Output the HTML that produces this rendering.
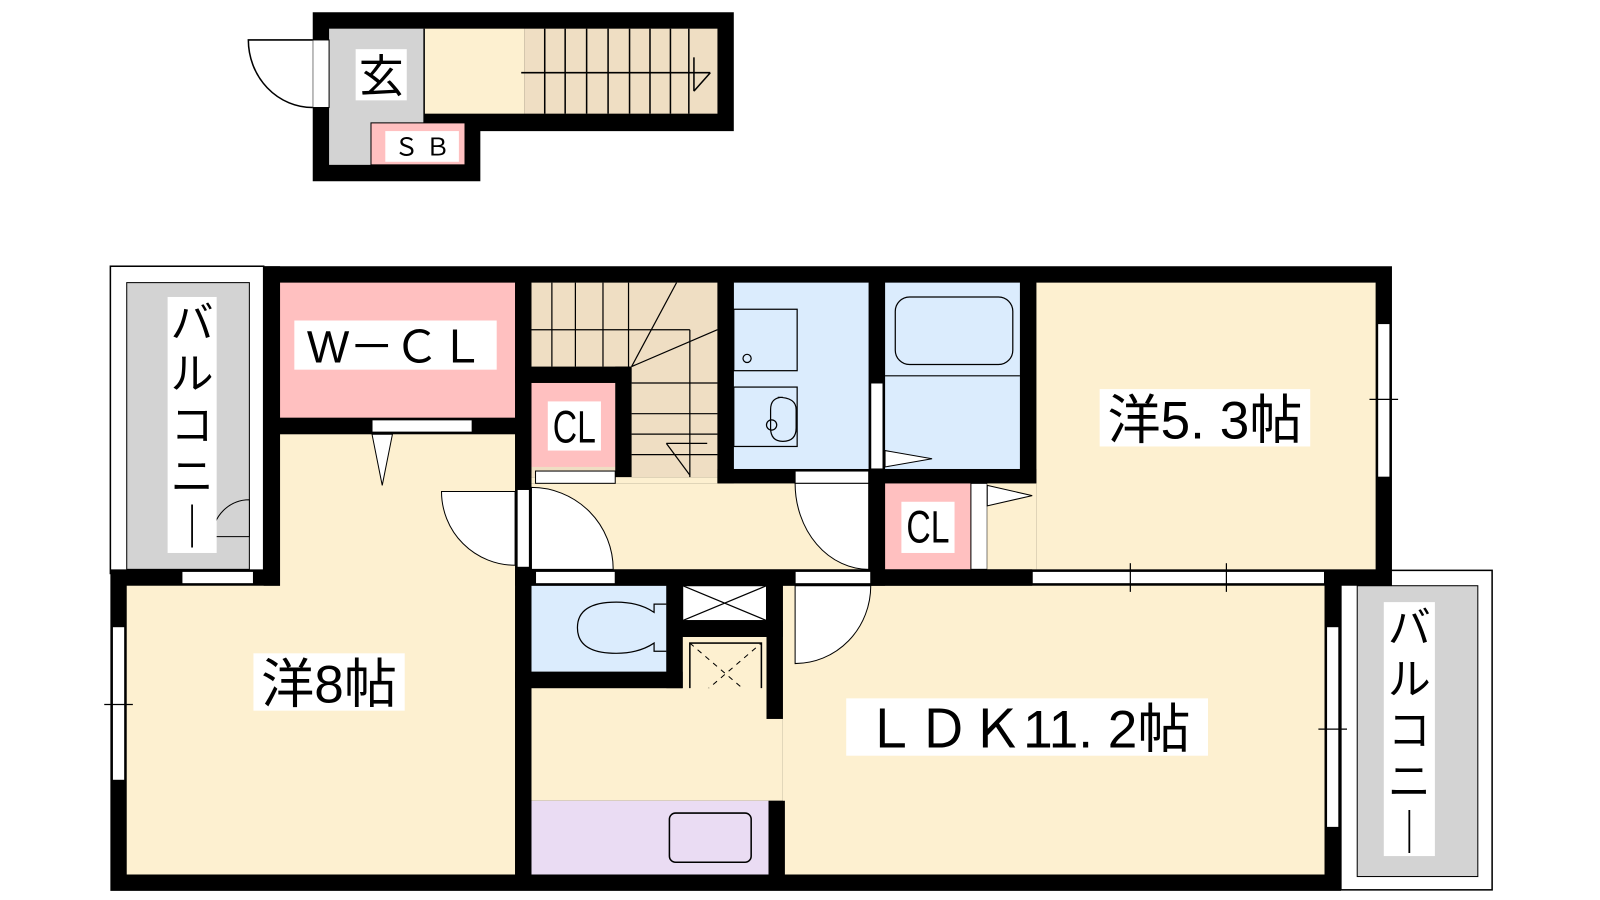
<!DOCTYPE html><html><head><style>body{margin:0;background:#fff}svg{display:block}text{font-family:"Liberation Sans","Noto Sans CJK JP",sans-serif}</style></head><body>
<svg width="1600" height="900" viewBox="0 0 1600 900" xmlns="http://www.w3.org/2000/svg">
<g transform="scale(1.022 1.024)">
<!-- top unit -->
<polygon points="306,12 718,12 718,128 470,128 470,177 306,177" fill="#000"/>
<rect x="322" y="28" width="93" height="133" fill="#d3d3d3"/>
<rect x="415" y="28" width="98" height="83" fill="#fdf0d0"/>
<rect x="513" y="28" width="189" height="83" fill="#efdec3"/>
<rect x="363" y="120" width="92" height="41" fill="#ffc0c0" stroke="#000" stroke-width="1"/>
<line x1="415" y1="28" x2="415" y2="120" stroke="#000" stroke-width="1.5"/>
<g stroke="#000" stroke-width="1.5">
<line x1="533" y1="28" x2="533" y2="111"/><line x1="553" y1="28" x2="553" y2="111"/><line x1="574" y1="28" x2="574" y2="111"/><line x1="595" y1="28" x2="595" y2="111"/><line x1="616" y1="28" x2="616" y2="111"/><line x1="636" y1="28" x2="636" y2="111"/><line x1="656" y1="28" x2="656" y2="111"/><line x1="674" y1="28" x2="674" y2="111"/>
<line x1="510" y1="71" x2="695" y2="71"/><line x1="695" y1="71" x2="679" y2="89"/><line x1="679" y1="56" x2="679" y2="89"/>
</g>
<rect x="306" y="39" width="16" height="66" fill="#fff" stroke="#000"/>
<path d="M306 39 L243 39 A63 66 0 0 0 306 105" fill="#fff" stroke="#000" stroke-width="1.5"/>
<rect x="348" y="48" width="50" height="50" fill="#fff"/>
<text x="373" y="90" font-size="44" text-anchor="middle">玄</text>
<rect x="377" y="128" width="72" height="30" fill="#fff"/>
<text x="413" y="152" font-size="24" text-anchor="middle">Ｓ Ｂ</text>

<!-- main unit base -->
<rect x="108" y="260" width="150" height="300" fill="#fff" stroke="#000" stroke-width="1.5"/>
<rect x="124" y="276" width="120" height="280" fill="#d3d3d3" stroke="#000" stroke-width="1"/>
<rect x="1312" y="557" width="148" height="312" fill="#fff" stroke="#000" stroke-width="1.5"/>
<rect x="1328" y="572" width="118" height="284" fill="#d3d3d3" stroke="#000" stroke-width="1"/>
<polygon points="258,260 1362,260 1362,572 1312,572 1312,870 108,870 108,556 258,556" fill="#000"/>
<!-- rooms -->
<rect x="274" y="276" width="230" height="132" fill="#ffc0c0"/>
<rect x="124" y="572" width="380" height="282" fill="#fdf0d0"/>
<rect x="274" y="424" width="230" height="150" fill="#fdf0d0"/>
<rect x="520" y="276" width="182" height="190" fill="#efdec3"/>
<rect x="520" y="374" width="82" height="82" fill="#ffc0c0"/>
<rect x="602" y="358" width="16" height="108" fill="#000"/>
<rect x="504" y="358" width="114" height="16" fill="#000"/>
<rect x="718" y="276" width="132" height="182" fill="#dbecfd"/>
<rect x="866" y="276" width="132" height="182" fill="#dbecfd"/>
<rect x="520" y="472" width="330" height="84" fill="#fdf0d0"/>
<rect x="520" y="466" width="182" height="6" fill="#fdf0d0"/>
<rect x="866" y="472" width="84" height="84" fill="#ffc0c0"/>
<rect x="950" y="472" width="16" height="84" fill="#fff" stroke="#000"/>
<rect x="1014" y="276" width="332" height="280" fill="#fdf0d0"/>
<rect x="966" y="472" width="48" height="84" fill="#fdf0d0"/>
<rect x="520" y="572" width="132" height="84" fill="#dbecfd"/>
<rect x="668" y="572" width="82" height="34" fill="#fff" stroke="#000"/>
<path d="M668 572 L750 606 M668 606 L750 572" stroke="#000" stroke-width="1.2"/>
<rect x="668" y="622" width="82" height="80" fill="#fdf0d0"/>
<rect x="675" y="628" width="70" height="60" fill="none" stroke="#000" stroke-width="1.5"/>
<path d="M675 628 L745 688 M675 688 L745 628" stroke="#000" stroke-dasharray="5,5"/>
<rect x="520" y="672" width="230" height="110" fill="#fdf0d0"/>
<rect x="766" y="572" width="530" height="282" fill="#fdf0d0"/>
<rect x="750" y="702" width="16" height="80" fill="#fdf0d0"/>
<rect x="520" y="782" width="232" height="72" fill="#eadcf3"/>
<rect x="655" y="794" width="80" height="48" rx="6" fill="none" stroke="#000" stroke-width="1.5"/>
<g stroke="#000" stroke-width="1.2" fill="none">
<line x1="540" y1="276" x2="540" y2="358"/><line x1="563" y1="276" x2="563" y2="358"/><line x1="590" y1="276" x2="590" y2="358"/><line x1="615" y1="276" x2="615" y2="358"/>
<line x1="520" y1="322" x2="675" y2="322"/><line x1="675" y1="322" x2="675" y2="466"/>
<line x1="618" y1="358" x2="662" y2="276"/><line x1="618" y1="358" x2="702" y2="322"/>
<line x1="618" y1="374" x2="702" y2="374"/><line x1="618" y1="404" x2="702" y2="404"/><line x1="618" y1="424" x2="702" y2="424"/><line x1="618" y1="444" x2="702" y2="444"/>
<line x1="652" y1="433" x2="692" y2="433"/><line x1="652" y1="433" x2="675" y2="464"/>
<rect x="718" y="302" width="62" height="60"/><circle cx="731" cy="350" r="4"/>
<rect x="718" y="378" width="62" height="58"/>
<path d="M761 388 Q779 388 779 400 L779 418 Q779 431 766 431 Q754 431 754 418 L754 400 Q754 388 766 388Z"/><circle cx="755" cy="415" r="5"/>
<rect x="876" y="290" width="115" height="66" rx="14"/><line x1="866" y1="367" x2="998" y2="367"/>
<path d="M652 590 L640 590 L640 598 Q625 588 603 588 Q565 588 565 613 Q565 638 603 638 Q625 638 640 628 L640 636 L652 636"/>
</g>
<!-- walls internal -->
<rect x="258" y="260" width="16" height="312" fill="#000"/>
<rect x="274" y="408" width="230" height="16" fill="#000"/>
<rect x="504" y="276" width="16" height="578" fill="#000"/>
<rect x="702" y="276" width="16" height="196" fill="#000"/>
<rect x="702" y="458" width="312" height="14" fill="#000"/>
<rect x="850" y="276" width="16" height="296" fill="#000"/>
<rect x="998" y="276" width="16" height="196" fill="#000"/>
<rect x="504" y="556" width="506" height="16" fill="#000"/>
<rect x="652" y="572" width="16" height="100" fill="#000"/>
<rect x="504" y="656" width="164" height="16" fill="#000"/>
<rect x="668" y="606" width="98" height="16" fill="#000"/>
<rect x="750" y="572" width="16" height="130" fill="#000"/>
<rect x="752" y="782" width="16" height="72" fill="#000"/>
<!-- openings -->
<g fill="#fff" stroke="#000" stroke-width="1">
<rect x="364" y="410" width="98" height="12"/>
<rect x="178" y="558" width="70" height="12"/>
<rect x="524" y="460" width="78" height="12"/>
<rect x="778" y="460" width="72" height="12"/>
<rect x="852" y="374" width="12" height="84"/>
<rect x="506" y="478" width="12" height="76"/>
<rect x="524" y="558" width="78" height="12"/>
<rect x="778" y="558" width="74" height="12"/>
<rect x="1010" y="558" width="286" height="12"/>
<rect x="110" y="612" width="12" height="150"/>
<rect x="1298" y="612" width="12" height="196"/>
<rect x="1348" y="316" width="12" height="150"/>
<path d="M520 476 L520 556 L600 556 A80 80 0 0 0 520 476Z"/>
<path d="M504 480 L432 480 A72 72 0 0 0 504 552Z"/>
<path d="M850 472 L778 472 A72 84 0 0 0 850 556Z"/>
<path d="M778 572 L852 572 A74 76 0 0 1 778 648Z"/>
<path d="M244 488 A36 36 0 0 0 208 524 L244 524Z" fill="#d3d3d3"/>
<path d="M364 424 L384 424 L374 474Z"/>
<path d="M866 440 L912 448 L866 456Z"/>
<path d="M966 474 L1010 484 L966 494Z"/>
</g>
<g stroke="#000" stroke-width="1.2"><line x1="1106" y1="550" x2="1106" y2="578"/><line x1="1200" y1="550" x2="1200" y2="578"/><line x1="102" y1="688" x2="130" y2="688"/><line x1="1290" y1="712" x2="1318" y2="712"/><line x1="1340" y1="390" x2="1368" y2="390"/></g>
<!-- labels -->
<rect x="288" y="313" width="198" height="48" fill="#fff"/>
<text x="387" y="354" font-size="44" text-anchor="middle">W－ＣＬ</text>
<rect x="536" y="392" width="52" height="48" fill="#fff"/>
<text x="562" y="432" font-size="44" text-anchor="middle" transform="translate(562 0) scale(0.75 1) translate(-562 0)">CL</text>
<rect x="882" y="490" width="52" height="50" fill="#fff"/>
<text x="908" y="530" font-size="44" text-anchor="middle" transform="translate(908 0) scale(0.75 1) translate(-908 0)">CL</text>
<rect x="1076" y="380" width="206" height="56" fill="#fff"/>
<text x="1179" y="428" font-size="52" text-anchor="middle">洋5. 3帖</text>
<rect x="248" y="638" width="148" height="56" fill="#fff"/>
<text x="322" y="686" font-size="52" text-anchor="middle">洋8帖</text>
<rect x="828" y="682" width="354" height="56" fill="#fff"/>
<text x="1005" y="730" font-size="52" text-anchor="middle">ＬＤＫ11. 2帖</text>
<rect x="164" y="290" width="48" height="250" fill="#fff"/>
<text x="188" y="330" font-size="42" text-anchor="middle"><tspan x="188">バ</tspan><tspan x="188" dy="50">ル</tspan><tspan x="188" dy="50">コ</tspan><tspan x="188" dy="50">ニ</tspan><tspan x="188" dy="50">｜</tspan></text>
<rect x="1354" y="588" width="50" height="248" fill="#fff"/>
<text x="1379" y="628" font-size="42" text-anchor="middle"><tspan x="1379">バ</tspan><tspan x="1379" dy="50">ル</tspan><tspan x="1379" dy="50">コ</tspan><tspan x="1379" dy="50">ニ</tspan><tspan x="1379" dy="50">｜</tspan></text>
</g>
</svg></body></html>
